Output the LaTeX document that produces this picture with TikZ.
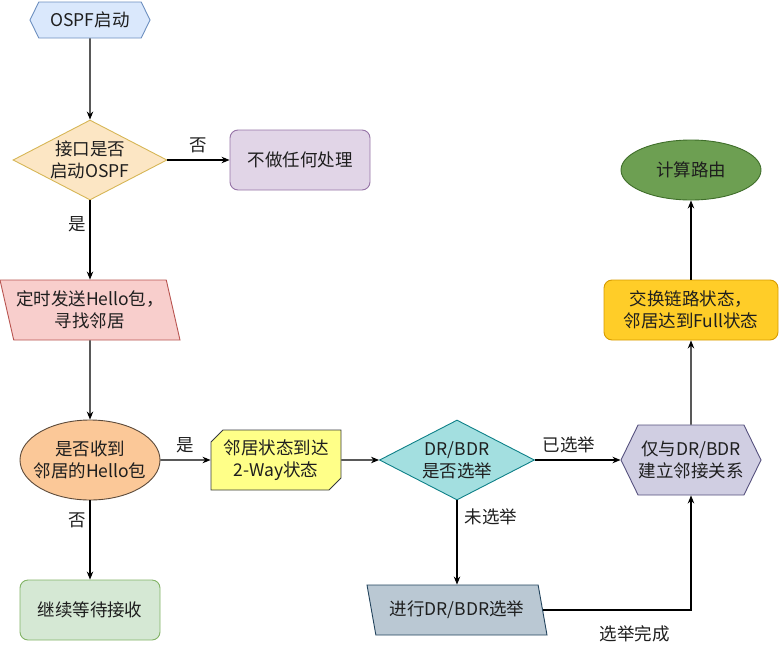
\documentclass[tikz,border=0pt]{standalone}
\usepackage{fontspec}
\setmainfont{Noto Sans CJK SC}
\usetikzlibrary{shapes.geometric,shapes.misc,shapes.symbols,arrows.meta}

\definecolor{blueF}{HTML}{DAE8FC}\definecolor{blueD}{HTML}{6C8EBF}
\definecolor{sandF}{HTML}{FCE6C4}\definecolor{sandD}{HTML}{D6B656}
\definecolor{purF}{HTML}{E1D5E7}\definecolor{purD}{HTML}{9673A6}
\definecolor{pinkF}{HTML}{F8CECC}\definecolor{pinkD}{HTML}{B85450}
\definecolor{orgF}{HTML}{FBC898}\definecolor{orgD}{HTML}{5C4A3A}
\definecolor{yelF}{HTML}{FFFF88}\definecolor{yelD}{HTML}{36393D}
\definecolor{tealF}{HTML}{A3DFE0}\definecolor{tealD}{HTML}{0E8088}
\definecolor{lavF}{HTML}{D0CEE2}\definecolor{lavD}{HTML}{56517E}
\definecolor{goldF}{HTML}{FFCD28}\definecolor{goldD}{HTML}{D79B00}
\definecolor{grnF}{HTML}{6D9F52}\definecolor{grnD}{HTML}{3F6E2A}
\definecolor{steelF}{HTML}{BAC8D3}\definecolor{steelD}{HTML}{23445D}
\definecolor{mintF}{HTML}{D5E8D4}\definecolor{mintD}{HTML}{82B366}
\definecolor{ink}{HTML}{1E1E1E}

\begin{document}
\begin{tikzpicture}[x=1pt,y=-1pt,
font=\fontsize{17.5}{22}\selectfont,
box/.style={draw,line width=0.9pt,text=ink,align=center,inner sep=2pt},
rbox/.style={box,rectangle,rounded corners=8pt},
hexa/.style={box,signal,signal to=west and east,signal pointer angle=128,inner xsep=0pt},
dia/.style={box,diamond,inner sep=0pt,shape aspect=1.93},
ell/.style={box,ellipse,inner sep=0pt,inner xsep=-8pt},
para/.style={box,trapezium,trapezium stretches body},
note/.style={box,chamfered rectangle,chamfered rectangle corners={north west,south east},
	chamfered rectangle xsep=6pt,chamfered rectangle ysep=6pt},
arr/.style={-{Stealth[length=8pt,width=6.5pt]},line width=1.1pt,black},
lbl/.style={text=ink}
]
\useasboundingbox (0,0) rectangle (779,651);
% left column
\node[hexa,fill=blueF,draw=blueD,minimum width=120pt,minimum height=36pt] (start) at (90,20) {OSPF启动};
\node[dia,fill=sandF,draw=sandD,minimum width=154pt,minimum height=80pt] (ifup) at (90,160) {接口是否\\启动OSPF};
\node[rbox,fill=purF,draw=purD,minimum width=140pt,minimum height=60pt] (noop) at (300,160) {不做任何处理};
\node[para,trapezium left angle=108,trapezium right angle=72,fill=pinkF,draw=pinkD,
	minimum width=180pt,minimum height=60pt] (hello) at (90,310) {定时发送Hello包，\\寻找邻居};
\node[ell,fill=orgF,draw=orgD,minimum width=140pt,minimum height=80pt] (recv) at (90,460) {是否收到\\邻居的Hello包};
\node[rbox,fill=mintF,draw=mintD,minimum width=140pt,minimum height=60pt] (wait) at (90,610) {继续等待接收};
% middle row
\node[note,fill=yelF,draw=yelD,minimum width=130pt,minimum height=60pt] (twoway) at (276,460) {邻居状态到达\\2-Way状态};
\node[dia,fill=tealF,draw=tealD,minimum width=155pt,minimum height=80pt] (drq) at (457,460) {DR/BDR\\是否选举};
\node[para,trapezium left angle=112,trapezium right angle=68,fill=steelF,draw=steelD,
	minimum width=180pt,minimum height=50pt] (elect) at (457,610) {进行DR/BDR选举};
% right column
\node[hexa,fill=lavF,draw=lavD,minimum width=140pt,minimum height=70pt] (adj) at (691,460) {仅与DR/BDR\\建立邻接关系};
\node[rbox,fill=goldF,draw=goldD,minimum width=174pt,minimum height=60pt] (full) at (691,310) {交换链路状态，\\邻居达到Full状态};
\node[ell,fill=grnF,draw=grnD,minimum width=140pt,minimum height=60pt] (route) at (691,170) {计算路由};

\draw[arr] (start) -- (ifup);
\draw[arr] (ifup) -- node[lbl,above=3pt] (lno1) {否} (noop);
\draw[arr] (ifup) -- node[lbl,left,pos=0.3] (lyes1) {是} (hello);
\draw[arr] (hello) -- (recv);
\draw[arr] (recv) -- node[lbl,above=3pt] (lyes2) {是} (twoway);
\draw[arr] (recv) -- node[lbl,left,pos=0.25] (lno2) {否} (wait);
\draw[arr] (twoway) -- (drq);
\draw[arr] (drq) -- node[lbl,above=3pt,pos=0.4] (ldone) {已选举} (adj);
\draw[arr] (drq) -- node[lbl,right=4pt,pos=0.2] (lnot) {未选举} (elect);
\draw[arr] (elect.east) -| node[lbl,below=12pt,pos=0.31] (lfin) {选举完成} (adj.south);
\draw[arr] (adj) -- (full);
\draw[arr] (full) -- (route);
\end{tikzpicture}
\end{document}
